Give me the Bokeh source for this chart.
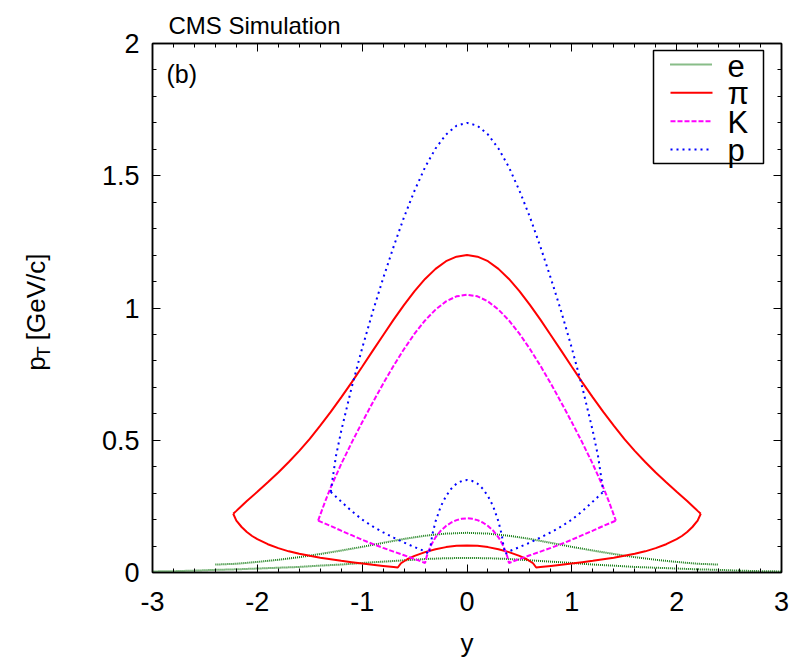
from bokeh.plotting import figure
from bokeh.layouts import row, column
from bokeh.models import (Range1d, LinearAxis, SingleIntervalTicker, Label,
                          BoxAnnotation, Arrow, CustomLabelingPolicy)
from bokeh.embed import file_html
from bokeh.resources import INLINE

FONT = "Liberation Sans"

# --- acceptance boundaries in (y, pT) for each particle species ---

# electrons: upper and lower edges
e_up_y = [-2.4, -2.2, -2.0, -1.8, -1.6, -1.4, -1.2, -1.0, -0.8, -0.6, -0.4, -0.2, 0.0,
          0.2, 0.4, 0.6, 0.8, 1.0, 1.2, 1.4, 1.6, 1.8, 2.0, 2.2, 2.4]
e_up_pt = [0.030, 0.033, 0.040, 0.048, 0.058, 0.070, 0.083, 0.097, 0.112, 0.127, 0.139, 0.147, 0.150,
           0.147, 0.139, 0.127, 0.112, 0.097, 0.083, 0.070, 0.058, 0.048, 0.040, 0.033, 0.030]
e_lo_y = [-3.0, -2.8, -2.6, -2.4, -2.2, -2.0, -1.8, -1.6, -1.4, -1.2, -1.0, -0.8, -0.6, -0.4, -0.2, 0.0,
          0.2, 0.4, 0.6, 0.8, 1.0, 1.2, 1.4, 1.6, 1.8, 2.0, 2.2, 2.4, 2.6, 2.8, 3.0]
e_lo_pt = [0.004, 0.005, 0.007, 0.010, 0.012, 0.015, 0.018, 0.021, 0.026, 0.030, 0.036, 0.041, 0.046, 0.051, 0.054, 0.055,
           0.054, 0.051, 0.046, 0.041, 0.036, 0.030, 0.026, 0.021, 0.018, 0.015, 0.012, 0.010, 0.007, 0.005, 0.004]

# pions
pi_up_y = [-2.23, -2.2, -2.1, -2.0, -1.9, -1.8, -1.7, -1.6, -1.5, -1.4, -1.3, -1.2, -1.1, -1.0,
           -0.9, -0.8, -0.7, -0.6, -0.5, -0.4, -0.3, -0.2, -0.1, 0.0,
           0.1, 0.2, 0.3, 0.4, 0.5, 0.6, 0.7, 0.8, 0.9, 1.0, 1.1, 1.2, 1.3, 1.4, 1.5, 1.6,
           1.7, 1.8, 1.9, 2.0, 2.1, 2.2, 2.23]
pi_up_pt = [0.222, 0.233, 0.270, 0.305, 0.341, 0.378, 0.418, 0.460, 0.505, 0.555, 0.607, 0.662, 0.719, 0.778,
            0.838, 0.897, 0.956, 1.012, 1.064, 1.110, 1.148, 1.177, 1.194, 1.200,
            1.194, 1.177, 1.148, 1.110, 1.064, 1.012, 0.956, 0.897, 0.838, 0.778, 0.719, 0.662, 0.607, 0.555, 0.505, 0.460,
            0.418, 0.378, 0.341, 0.305, 0.270, 0.233, 0.222]
pi_lo_y = [-2.23, -2.2, -2.15, -2.1, -2.05, -2.0, -1.9, -1.8, -1.7, -1.6, -1.5, -1.4, -1.3, -1.2, -1.1, -1.0,
           -0.9, -0.8, -0.7, -0.66, -0.63, -0.57, -0.5, -0.4, -0.3, -0.2, -0.1, 0.0,
           0.1, 0.2, 0.3, 0.4, 0.5, 0.57, 0.63, 0.66, 0.7, 0.8, 0.9,
           1.0, 1.1, 1.2, 1.3, 1.4, 1.5, 1.6, 1.7, 1.8, 1.9, 2.0, 2.05, 2.1, 2.15, 2.2, 2.23]
pi_lo_pt = [0.222, 0.196, 0.172, 0.153, 0.138, 0.126, 0.107, 0.092, 0.080, 0.071, 0.063, 0.056, 0.050, 0.044, 0.039, 0.034,
            0.029, 0.025, 0.021, 0.019, 0.035, 0.050, 0.063, 0.077, 0.088, 0.096, 0.101, 0.102,
            0.101, 0.096, 0.088, 0.077, 0.063, 0.050, 0.035, 0.019, 0.021, 0.025, 0.029,
            0.034, 0.039, 0.044, 0.050, 0.056, 0.063, 0.071, 0.080, 0.092, 0.107, 0.126, 0.138, 0.153, 0.172, 0.196, 0.222]

# kaons
k_up_y = [-1.42, -1.4, -1.35, -1.3, -1.25, -1.2, -1.1, -1.0, -0.9, -0.8, -0.7, -0.6, -0.5, -0.4, -0.3, -0.2, -0.1, 0.0,
          0.1, 0.2, 0.3, 0.4, 0.5, 0.6, 0.7, 0.8, 0.9, 1.0, 1.1, 1.2, 1.25, 1.3, 1.35, 1.4, 1.42]
k_up_pt = [0.196, 0.218, 0.272, 0.322, 0.366, 0.410, 0.491, 0.568, 0.642, 0.714, 0.782, 0.845, 0.903, 0.953, 0.994, 1.025, 1.044, 1.050,
           1.044, 1.025, 0.994, 0.953, 0.903, 0.845, 0.782, 0.714, 0.642, 0.568, 0.491, 0.410, 0.366, 0.322, 0.272, 0.218, 0.196]
k_lo_y = [-1.42, -1.3, -1.2, -1.1, -1.0, -0.9, -0.8, -0.7, -0.6, -0.5, -0.4, -0.385, -0.35, -0.3, -0.25, -0.2, -0.15, -0.1, -0.05, 0.0,
          0.05, 0.1, 0.15, 0.2, 0.25, 0.3, 0.35, 0.385, 0.4, 0.5, 0.6, 0.7, 0.8, 0.9, 1.0, 1.1, 1.2, 1.3, 1.42]
k_lo_pt = [0.196, 0.176, 0.158, 0.141, 0.124, 0.108, 0.093, 0.079, 0.065, 0.051, 0.036, 0.060, 0.098, 0.133, 0.158, 0.176, 0.189, 0.198, 0.203, 0.205,
           0.203, 0.198, 0.189, 0.176, 0.158, 0.133, 0.098, 0.060, 0.036, 0.051, 0.065, 0.079, 0.093, 0.108, 0.124, 0.141, 0.158, 0.176, 0.196]

# protons
p_up_y = [-1.3, -1.28, -1.25, -1.2, -1.1, -1.0, -0.9, -0.8, -0.7, -0.6, -0.5, -0.4, -0.3, -0.2, -0.1, 0.0,
          0.1, 0.2, 0.3, 0.4, 0.5, 0.6, 0.7, 0.8, 0.9, 1.0, 1.1, 1.2, 1.25, 1.28, 1.3]
p_up_pt = [0.305, 0.360, 0.440, 0.535, 0.700, 0.848, 0.985, 1.112, 1.232, 1.344, 1.444, 1.532, 1.603, 1.656, 1.689, 1.700,
           1.689, 1.656, 1.603, 1.532, 1.444, 1.344, 1.232, 1.112, 0.985, 0.848, 0.700, 0.535, 0.440, 0.360, 0.305]
p_lo_y = [-1.3, -1.2, -1.1, -1.0, -0.9, -0.8, -0.7, -0.6, -0.5, -0.4, -0.365, -0.35, -0.33, -0.3, -0.25, -0.2, -0.15, -0.1, -0.05, 0.0,
          0.05, 0.1, 0.15, 0.2, 0.25, 0.3, 0.33, 0.35, 0.365, 0.4, 0.5, 0.6, 0.7, 0.8, 0.9, 1.0, 1.1, 1.2, 1.3]
p_lo_pt = [0.305, 0.268, 0.232, 0.200, 0.174, 0.152, 0.132, 0.113, 0.096, 0.080, 0.070, 0.095, 0.145, 0.193, 0.250, 0.289, 0.317, 0.336, 0.346, 0.350,
           0.346, 0.336, 0.317, 0.289, 0.250, 0.193, 0.145, 0.095, 0.070, 0.080, 0.096, 0.113, 0.132, 0.152, 0.174, 0.200, 0.232, 0.268, 0.305]

x_ticks = [-3, -2, -1, 0, 1, 2, 3]
x_tick_labels = ["-3", "-2", "-1", "0", "1", "2", "3"]
y_ticks = [0, 0.5, 1, 1.5, 2]
y_tick_labels = ["0", "0.5", "1", "1.5", "2"]

species = ["e", "\u03c0", "K", "p"]
colors = ["#117a11", "#ff0000", "#ff00ff", "#0000ff"]
dashes = ["1 1", "solid", "5 2", "2 4"]
widths = [2.0, 2.0, 2.0, 2.0]
curves = [
    [(e_up_y, e_up_pt), (e_lo_y, e_lo_pt)],
    [(pi_up_y, pi_up_pt), (pi_lo_y, pi_lo_pt)],
    [(k_up_y, k_up_pt), (k_lo_y, k_lo_pt)],
    [(p_up_y, p_up_pt), (p_lo_y, p_lo_pt)],
]

# page geometry (pixels): left text strip, main plot, bottom text strip
W, H = 790, 658
STRIP_W = 60
MAIN_H = 624
FL, FR, FT, FB = 152, 781, 43, 572


def text_strip(w, h):
    f = figure(width=w, height=h, x_range=Range1d(0, w), y_range=Range1d(0, h),
               output_backend="svg", toolbar_location=None,
               x_axis_location=None, y_axis_location=None, min_border=0)
    f.grid.visible = False
    f.outline_line_color = None
    f.background_fill_color = "white"
    f.border_fill_color = "white"
    return f


p = figure(width=W - STRIP_W, height=MAIN_H, x_range=Range1d(-3, 3), y_range=Range1d(0, 2),
           output_backend="svg", toolbar_location=None,
           min_border_left=FL - STRIP_W, min_border_right=W - FR,
           min_border_top=FT, min_border_bottom=MAIN_H - FB,
           title="CMS Simulation")
p.grid.visible = False
p.outline_line_color = "black"
p.outline_line_width = 1.5
p.background_fill_color = "white"
p.border_fill_color = "white"

p.title.text_font = FONT
p.title.text_font_size = "24px"
p.title.text_font_style = "normal"
p.title.text_color = "black"
p.title.align = "left"
p.title.offset = 16
p.title.standoff = 9

for lines, c, d, w in zip(curves, colors, dashes, widths):
    for xs, ys in lines:
        p.line(xs, ys, line_color=c, line_dash=d, line_width=w)

no_labels = CustomLabelingPolicy(code="for (const i of indices) indices.unset(i)")


def style_axis(ax, ticker, show_labels):
    ax.ticker = ticker
    ax.axis_line_color = "black"
    ax.axis_line_width = 1.5
    ax.major_tick_line_color = "black"
    ax.minor_tick_line_color = "black"
    ax.major_tick_in = 8
    ax.major_tick_out = 0
    ax.minor_tick_in = 4
    ax.minor_tick_out = 0
    if show_labels:
        ax.major_label_text_font = FONT
        ax.major_label_text_font_size = "27px"
        ax.major_label_text_color = "black"
    else:
        ax.major_label_policy = no_labels
        ax.major_label_text_font_size = "0px"
        ax.major_label_standoff = 0


style_axis(p.xaxis[0], SingleIntervalTicker(interval=1, num_minor_ticks=5), True)
style_axis(p.yaxis[0], SingleIntervalTicker(interval=0.5, num_minor_ticks=5), True)
p.xaxis[0].major_label_overrides = dict(zip(x_ticks, x_tick_labels))
p.yaxis[0].major_label_overrides = dict(zip(y_ticks, y_tick_labels))
p.xaxis[0].major_label_standoff = 19
p.yaxis[0].major_label_standoff = 13

top_ax = LinearAxis()
right_ax = LinearAxis()
style_axis(top_ax, SingleIntervalTicker(interval=1, num_minor_ticks=5), False)
style_axis(right_ax, SingleIntervalTicker(interval=0.5, num_minor_ticks=5), False)
p.add_layout(top_ax, "above")
p.add_layout(right_ax, "right")


# annotation positions inside the frame (y measured upward from the frame bottom)
def fx(px):
    return px - FL


def fy(py):
    return FB - py


# panel tag
p.add_layout(Label(x=fx(166), y=fy(73), x_units="screen", y_units="screen", text="(b)",
                   text_font=FONT, text_font_size="25px", text_color="black",
                   text_align="left", text_baseline="alphabetic"))

# legend
p.add_layout(BoxAnnotation(left=fx(653), right=fx(763), top=fy(50), bottom=fy(163),
                           left_units="screen", right_units="screen",
                           top_units="screen", bottom_units="screen",
                           fill_color="white", fill_alpha=1.0,
                           line_color="black", line_alpha=1.0, line_width=1.5, level="overlay"))
row_y = [64, 92.3, 120.7, 149]
for name, c, d, w, ry in zip(species, colors, dashes, widths, row_y):
    p.add_layout(Arrow(x_start=fx(670), y_start=fy(ry), x_end=fx(712), y_end=fy(ry),
                       start_units="screen", end_units="screen", start=None, end=None,
                       line_color=c, line_dash=d, line_width=w, level="overlay"))
    p.add_layout(Label(x=fx(727), y=fy(ry + 1), x_units="screen", y_units="screen", text=name,
                       text_font=FONT, text_font_size="31px", text_color="black",
                       text_align="left", text_baseline="alphabetic", level="overlay"))

# y axis title: p_T [GeV/c], rotated, in the left strip (strip units are pixels, y upward)
left = text_strip(STRIP_W, MAIN_H)
for txt, bx, by, size in [("p", 35.5, 386, "26px"), ("T", 43, 371, "19px"), ("[GeV/c]", 35.5, 350, "26px")]:
    left.add_layout(Label(x=bx, y=MAIN_H - by, text=txt, angle=1.5708,
                          text_font=FONT, text_font_size=size, text_color="black",
                          text_align="left", text_baseline="alphabetic"))

# x axis title in the bottom strip
bottom = text_strip(W, H - MAIN_H)
bottom.add_layout(Label(x=466.5, y=H - 642, text="y",
                        text_font=FONT, text_font_size="26px", text_color="black",
                        text_align="center", text_baseline="alphabetic"))

layout = column(row(left, p), bottom)
open("out.html", "w").write(file_html(layout, INLINE))
